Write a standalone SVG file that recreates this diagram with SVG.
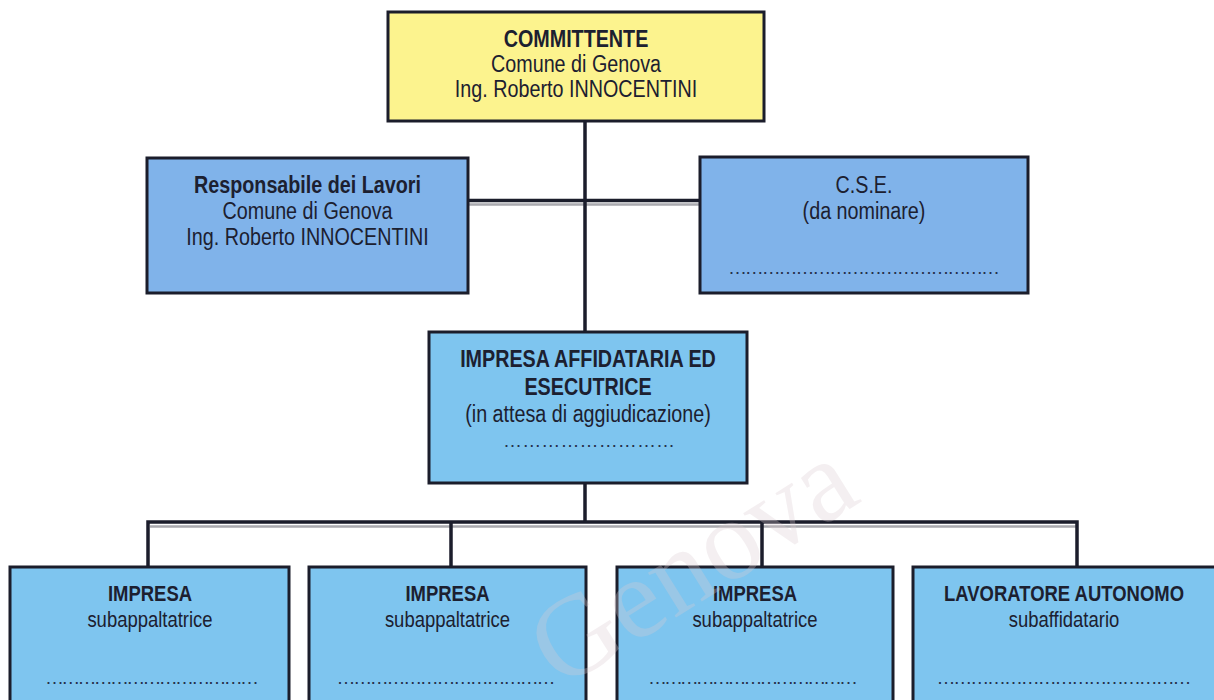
<svg xmlns="http://www.w3.org/2000/svg" width="1214" height="700" viewBox="0 0 1214 700">
<style>
.box{stroke:#1b1d2b;stroke-width:3}
.y{fill:#fcf38e}
.p{fill:#80b3ea}
.s{fill:#7ec5ef}
text{font-family:"Liberation Sans",Arial,sans-serif;fill:#1c2030;text-anchor:middle;font-size:23.5px}
.b{font-weight:bold}
.sm{font-size:22px}
.dots{font-size:19px;fill:#26304a}
.conn{stroke:#1b1d2b;stroke-width:3.5;fill:none}
.sh{stroke:#a9a9ae;stroke-width:2.5;fill:none}
.wm{font-family:"Liberation Serif",serif;font-size:115px;fill:#dcccd2;opacity:0.3;text-anchor:start}
</style>
<rect width="1214" height="700" fill="#ffffff"/>
<g id="connectors">
<path class="sh" d="M468 204.5H700M150 526.5H1077"/>
<path class="conn" d="M585 121V332M468 200.5H700M585 484V522M148 567V522H1077V567M451 522V567M762 522V567"/>
</g>
<g id="committente">
<rect class="box y" x="388" y="12" width="376" height="109"/>
<g transform="translate(576 0) scale(0.84 1)">
<text class="b" x="0" y="47">COMMITTENTE</text>
<text x="0" y="72">Comune di Genova</text>
<text x="0" y="97">Ing. Roberto INNOCENTINI</text>
</g>
</g>
<g id="responsabile">
<rect class="box p" x="147" y="158" width="321" height="135"/>
<g transform="translate(307.5 0) scale(0.84 1)">
<text class="b" x="0" y="193">Responsabile dei Lavori</text>
<text x="0" y="219">Comune di Genova</text>
<text x="0" y="245">Ing. Roberto INNOCENTINI</text>
</g>
</g>
<g id="cse">
<rect class="box p" x="700" y="157" width="328" height="136"/>
<g transform="translate(864 0) scale(0.84 1)">
<text x="0" y="193">C.S.E.</text>
<text x="0" y="219">(da nominare)</text>
</g>
<text class="dots" x="864" y="274" textLength="272">…………………………………………</text>
</g>
<g id="affidataria">
<rect class="box s" x="429" y="332" width="318" height="151"/>
<g transform="translate(588 0) scale(0.84 1)">
<text class="b" x="0" y="367">IMPRESA AFFIDATARIA ED</text>
<text class="b" x="0" y="395">ESECUTRICE</text>
<text x="0" y="422">(in attesa di aggiudicazione)</text>
</g>
<text class="dots" x="589" y="447" textLength="172">………………………</text>
</g>
<g id="impresa1">
<rect class="box s" x="10" y="567" width="279" height="150"/>
<g transform="translate(150 0) scale(0.84 1)">
<text class="b sm" x="0" y="601">IMPRESA</text>
<text class="sm" x="0" y="627">subappaltatrice</text>
</g>
<text class="dots" x="152" y="684" textLength="214">…………………………………</text>
</g>
<g id="impresa2">
<rect class="box s" x="309" y="567" width="277" height="150"/>
<g transform="translate(447.5 0) scale(0.84 1)">
<text class="b sm" x="0" y="601">IMPRESA</text>
<text class="sm" x="0" y="627">subappaltatrice</text>
</g>
<text class="dots" x="446" y="684" textLength="219">…………………………………</text>
</g>
<g id="impresa3">
<rect class="box s" x="617" y="567" width="276" height="150"/>
<g transform="translate(755 0) scale(0.84 1)">
<text class="b sm" x="0" y="601">IMPRESA</text>
<text class="sm" x="0" y="627">subappaltatrice</text>
</g>
<text class="dots" x="753" y="684" textLength="210">…………………………………</text>
</g>
<g id="lavoratore">
<rect class="box s" x="913" y="567" width="310" height="150"/>
<g transform="translate(1064 0) scale(0.84 1)">
<text class="b sm" x="0" y="601">LAVORATORE AUTONOMO</text>
<text class="sm" x="0" y="627">subaffidatario</text>
</g>
<text class="dots" x="1064" y="684" textLength="255">………………………………………</text>
</g>
<text class="wm" x="560" y="690" transform="rotate(-32 560 690)">Genova</text>
</svg>
